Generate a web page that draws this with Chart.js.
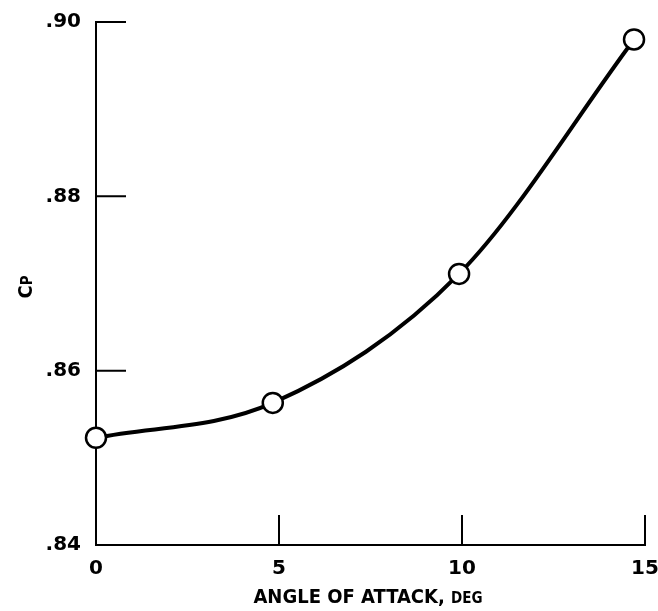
<!DOCTYPE html>
<html>
<head>
<meta charset="utf-8">
<script src="https://cdn.jsdelivr.net/npm/chart.js@4/dist/chart.umd.min.js"></script>
<style>
  html, body { margin: 0; padding: 0; background: #fff; }
  #wrap { width: 658px; height: 611px; position: relative; }
</style>
</head>
<body>
<div id="wrap"><canvas id="myChart"></canvas></div>
<script>
// data
const angleDeg = [0, 4.83, 9.92, 14.7];
const cpValues = [0.8523, 0.8563, 0.8711, 0.8980];
const xTicks = [0, 5, 10, 15];
const yTicks = [0.84, 0.86, 0.88, 0.90];

const FONT = "'DejaVu Sans', sans-serif";
const TITLE_FONT = "'DejaVu Sans Condensed', 'DejaVu Sans', sans-serif";
const INK = "#000";

// inward tick marks and the two axis titles
const paperAxes = {
  id: "paperAxes",
  afterDraw: (chart) => {
    const { ctx, chartArea, scales } = chart;
    const len = 30;
    ctx.save();
    ctx.strokeStyle = INK;
    ctx.lineWidth = 2;
    ctx.beginPath();
    xTicks.slice(1).forEach((v) => {
      const px = scales.x.getPixelForValue(v);
      ctx.moveTo(px, chartArea.bottom);
      ctx.lineTo(px, chartArea.bottom - len);
    });
    yTicks.slice(1).forEach((v) => {
      const py = scales.y.getPixelForValue(v);
      ctx.moveTo(chartArea.left, py);
      ctx.lineTo(chartArea.left + len, py);
    });
    ctx.stroke();

    // x title, "DEG" in small caps
    ctx.fillStyle = INK;
    ctx.textBaseline = "alphabetic";
    const big = "bold 20px " + TITLE_FONT;
    const small = "bold 15px " + TITLE_FONT;
    const a = "ANGLE OF ATTACK, ";
    const b = "DEG";
    ctx.font = big;
    const wa = ctx.measureText(a).width;
    ctx.font = small;
    const wb = ctx.measureText(b).width;
    const x0 = 368 - (wa + wb) / 2;
    ctx.font = big;
    ctx.textAlign = "left";
    ctx.fillText(a, x0, 603);
    ctx.font = small;
    ctx.fillText(b, x0 + wa, 603);

    // y title "Cp", rotated
    ctx.translate(32, 287);
    ctx.rotate(-Math.PI / 2);
    ctx.font = big;
    const wc = ctx.measureText("C").width;
    ctx.font = small;
    const wp = ctx.measureText("P").width;
    const s0 = -(wc + wp) / 2;
    ctx.font = big;
    ctx.fillText("C", s0, 0);
    ctx.font = small;
    ctx.fillText("P", s0 + wc, 0);
    ctx.restore();
  },
};

const ctx = document.getElementById("myChart").getContext("2d");
new Chart(ctx, {
  type: "scatter",
  data: {
    datasets: [
      {
        label: "Cp",
        data: angleDeg.map((a, i) => ({ x: a, y: cpValues[i] })),
        showLine: true,
        cubicInterpolationMode: "monotone",
        borderColor: INK,
        borderWidth: 4,
        pointRadius: 10,
        pointBorderWidth: 2.5,
        pointBackgroundColor: "#fff",
        pointBorderColor: INK,
        clip: false,
      },
    ],
  },
  plugins: [paperAxes],
  options: {
    responsive: true,
    maintainAspectRatio: false,
    animation: false,
    layout: { padding: { top: 22, right: 13, left: 0, bottom: 0 } },
    plugins: {
      legend: { display: false },
      tooltip: { enabled: false },
    },
    scales: {
      x: {
        type: "linear",
        min: 0,
        max: 15,
        afterBuildTicks: (s) => { s.ticks = xTicks.map((v) => ({ value: v })); },
        afterFit: (s) => {
          s.height = 66;
          s.paddingLeft = 0;
          s.paddingRight = 0;
        },
        grid: { display: false, drawTicks: false },
        border: { display: true, color: INK, width: 2 },
        ticks: {
          color: INK,
          padding: 12,
          font: { family: FONT, size: 20, weight: "bold" },
          maxRotation: 0,
        },
      },
      y: {
        type: "linear",
        min: 0.84,
        max: 0.90,
        afterBuildTicks: (s) => { s.ticks = yTicks.map((v) => ({ value: v })); },
        afterFit: (s) => {
          s.width = 96;
          s.paddingTop = 0;
          s.paddingBottom = 0;
        },
        grid: { display: false, drawTicks: false },
        border: { display: true, color: INK, width: 2 },
        ticks: {
          color: INK,
          padding: 15,
          font: { family: FONT, size: 20, weight: "bold" },
          callback: (v) => "." + Math.round(v * 100),
        },
      },
    },
  },
});
</script>
</body>
</html>
